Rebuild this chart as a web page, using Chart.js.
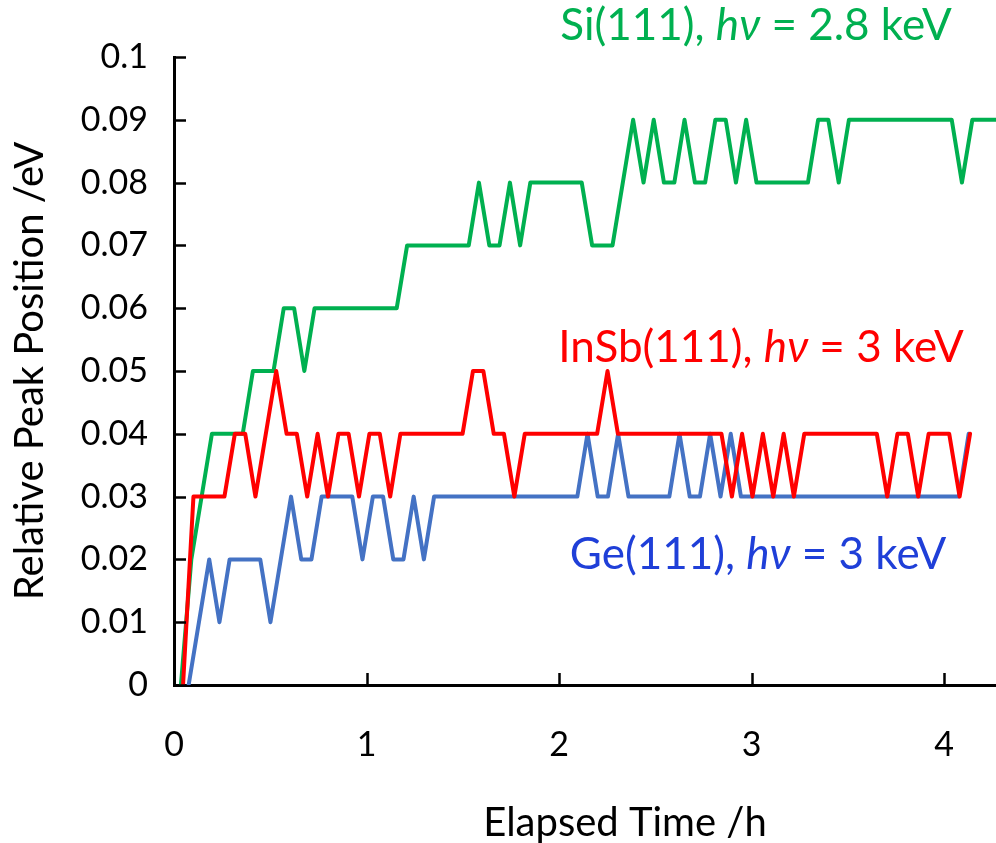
<!DOCTYPE html>
<html>
<head>
<meta charset="utf-8">
<script src="https://cdn.jsdelivr.net/npm/chart.js@4.4.1/dist/chart.umd.min.js"></script>
<style>
  html, body { margin: 0; padding: 0; background: #fff; }
  canvas { display: block; }
</style>
</head>
<body>
<canvas id="peakChart" width="996" height="843"></canvas>
<script>
// Elapsed time (h) and relative peak position (eV), corners of each trace
const siTime = [0.036, 0.090, 0.197, 0.357, 0.410, 0.517, 0.570, 0.624, 0.677, 0.730, 1.157, 1.211, 1.531, 1.584, 1.638, 1.691, 1.745, 1.798, 1.851, 2.118, 2.172, 2.278, 2.385, 2.439, 2.492, 2.545, 2.599, 2.652, 2.706, 2.759, 2.812, 2.866, 2.919, 2.972, 3.026, 3.293, 3.346, 3.399, 3.453, 3.506, 4.040, 4.093, 4.147, 4.307];
const siShift = [0, 0.02, 0.04, 0.04, 0.05, 0.05, 0.06, 0.06, 0.05, 0.06, 0.06, 0.07, 0.07, 0.08, 0.07, 0.07, 0.08, 0.07, 0.08, 0.08, 0.07, 0.07, 0.09, 0.08, 0.09, 0.08, 0.08, 0.09, 0.08, 0.08, 0.09, 0.09, 0.08, 0.09, 0.08, 0.08, 0.09, 0.09, 0.08, 0.09, 0.09, 0.08, 0.09, 0.09];

const insbTime = [0.047, 0.101, 0.262, 0.316, 0.370, 0.423, 0.531, 0.585, 0.638, 0.692, 0.746, 0.800, 0.854, 0.907, 0.961, 1.015, 1.069, 1.123, 1.176, 1.499, 1.553, 1.607, 1.661, 1.714, 1.768, 1.822, 2.198, 2.252, 2.306, 2.844, 2.898, 2.951, 3.005, 3.059, 3.113, 3.167, 3.220, 3.274, 3.651, 3.705, 3.758, 3.812, 3.866, 3.920, 4.027, 4.081, 4.135];
const insbShift = [0, 0.03, 0.03, 0.04, 0.04, 0.03, 0.05, 0.04, 0.04, 0.03, 0.04, 0.03, 0.04, 0.04, 0.03, 0.04, 0.04, 0.03, 0.04, 0.04, 0.05, 0.05, 0.04, 0.04, 0.03, 0.04, 0.04, 0.05, 0.04, 0.04, 0.03, 0.04, 0.03, 0.04, 0.03, 0.04, 0.03, 0.04, 0.04, 0.03, 0.04, 0.04, 0.03, 0.04, 0.04, 0.03, 0.04];

const geTime = [0.076, 0.183, 0.236, 0.289, 0.448, 0.501, 0.608, 0.661, 0.714, 0.767, 0.926, 0.979, 1.033, 1.086, 1.139, 1.192, 1.245, 1.298, 1.351, 2.095, 2.148, 2.201, 2.254, 2.307, 2.361, 2.573, 2.626, 2.679, 2.732, 2.785, 2.839, 2.892, 2.945, 4.077, 4.128];
const geShift = [0, 0.02, 0.01, 0.02, 0.02, 0.01, 0.03, 0.02, 0.02, 0.03, 0.03, 0.02, 0.03, 0.03, 0.02, 0.02, 0.03, 0.02, 0.03, 0.03, 0.04, 0.03, 0.03, 0.04, 0.03, 0.03, 0.04, 0.03, 0.03, 0.04, 0.03, 0.04, 0.03, 0.03, 0.04];

const xTicks = [0, 1, 2, 3, 4];
const yTicks = [0, 0.01, 0.02, 0.03, 0.04, 0.05, 0.06, 0.07, 0.08, 0.09, 0.1];

const FONT = 'Lato, "Open Sans", sans-serif';
const TICK_SIZE = 34;
const TITLE_SIZE = 40;
const LABEL_SIZE = 44;

const pairs = (t, v) => t.map((x, i) => ({ x: x, y: v[i] }));

// Text labels next to each trace: [before italic, italic, after, colour, centre x, centre y]
const seriesLabels = [
    ['Si(111), ', 'h\u03BD', ' = 2.8 keV', '#00B050', 756, 26],
    ['InSb(111), ', 'h\u03BD', ' = 3 keV', '#FF0000', 761, 348],
    ['Ge(111), ', 'h\u03BD', ' = 3 keV', '#1F3FD8', 758, 555]
];

const decorations = {
    id: 'decorations',
    afterDraw(chart) {
        const ctx = chart.ctx;
        const xs = chart.scales.x;
        const ys = chart.scales.y;
        const area = chart.chartArea;
        ctx.save();
        // tick marks pointing into the plot
        ctx.strokeStyle = '#000';
        ctx.lineWidth = 2.5;
        ctx.beginPath();
        yTicks.forEach(v => {
            const y = Math.round(ys.getPixelForValue(v)) + 0.5;
            ctx.moveTo(area.left, y);
            ctx.lineTo(area.left + 12, y);
        });
        xTicks.forEach(v => {
            if (v === 0) return;
            const x = Math.round(xs.getPixelForValue(v)) + 0.5;
            ctx.moveTo(x, area.bottom);
            ctx.lineTo(x, area.bottom - 12);
        });
        ctx.stroke();

        // x axis title
        ctx.fillStyle = '#000';
        ctx.font = TITLE_SIZE + 'px ' + FONT;
        ctx.textAlign = 'center';
        ctx.textBaseline = 'middle';
        ctx.fillText('Elapsed Time /h', 625, 823);

        // series labels with italic h-nu
        ctx.textAlign = 'left';
        seriesLabels.forEach(lab => {
            const normal = LABEL_SIZE + 'px ' + FONT;
            const italic = 'italic ' + LABEL_SIZE + 'px ' + FONT;
            ctx.font = normal;
            const w1 = ctx.measureText(lab[0]).width;
            const w3 = ctx.measureText(lab[2]).width;
            ctx.font = italic;
            const w2 = ctx.measureText(lab[1]).width;
            let x = lab[4] - (w1 + w2 + w3) / 2;
            ctx.fillStyle = lab[3];
            ctx.font = normal;
            ctx.fillText(lab[0], x, lab[5]);
            x += w1;
            ctx.font = italic;
            ctx.fillText(lab[1], x, lab[5]);
            x += w2;
            ctx.font = normal;
            ctx.fillText(lab[2], x, lab[5]);
        });
        ctx.restore();
    }
};

const lineStyle = {
    borderWidth: 4,
    pointRadius: 0,
    tension: 0,
    fill: false,
    borderJoinStyle: 'round',
    borderCapStyle: 'round'
};

new Chart(document.getElementById('peakChart'), {
    type: 'line',
    data: {
        datasets: [
            Object.assign({ label: 'InSb(111)', data: pairs(insbTime, insbShift), borderColor: '#FF0000' }, lineStyle),
            Object.assign({ label: 'Si(111)', data: pairs(siTime, siShift), borderColor: '#00B050' }, lineStyle),
            Object.assign({ label: 'Ge(111)', data: pairs(geTime, geShift), borderColor: '#4472C4' }, lineStyle)
        ]
    },
    options: {
        responsive: false,
        animation: false,
        layout: { padding: { top: 57, right: 0, left: 0, bottom: 0 } },
        plugins: {
            legend: { display: false },
            tooltip: { enabled: false }
        },
        scales: {
            x: {
                type: 'linear',
                min: 0,
                max: 4.27,
                afterFit: s => { s.height = 158; },
                afterBuildTicks: s => { s.ticks = xTicks.map(v => ({ value: v })); },
                grid: { display: false, drawTicks: false },
                border: { display: true, color: '#000', width: 3 },
                ticks: {
                    color: '#000',
                    padding: 40,
                    maxRotation: 0,
                    font: { family: FONT, size: TICK_SIZE },
                    callback: v => String(v)
                }
            },
            y: {
                type: 'linear',
                min: 0,
                max: 0.1,
                afterFit: s => { s.width = 174; },
                afterBuildTicks: s => { s.ticks = yTicks.map(v => ({ value: v })); },
                grid: { display: false, drawTicks: false },
                border: { display: true, color: '#000', width: 3 },
                ticks: {
                    color: '#000',
                    padding: 26,
                    font: { family: FONT, size: TICK_SIZE },
                    callback: v => String(Number(v.toFixed(2)))
                },
                title: {
                    display: true,
                    text: 'Relative Peak Position /eV',
                    color: '#000',
                    font: { family: FONT, size: TITLE_SIZE },
                    padding: { top: 6, bottom: 0 }
                }
            }
        }
    },
    plugins: [decorations]
});
</script>
</body>
</html>
